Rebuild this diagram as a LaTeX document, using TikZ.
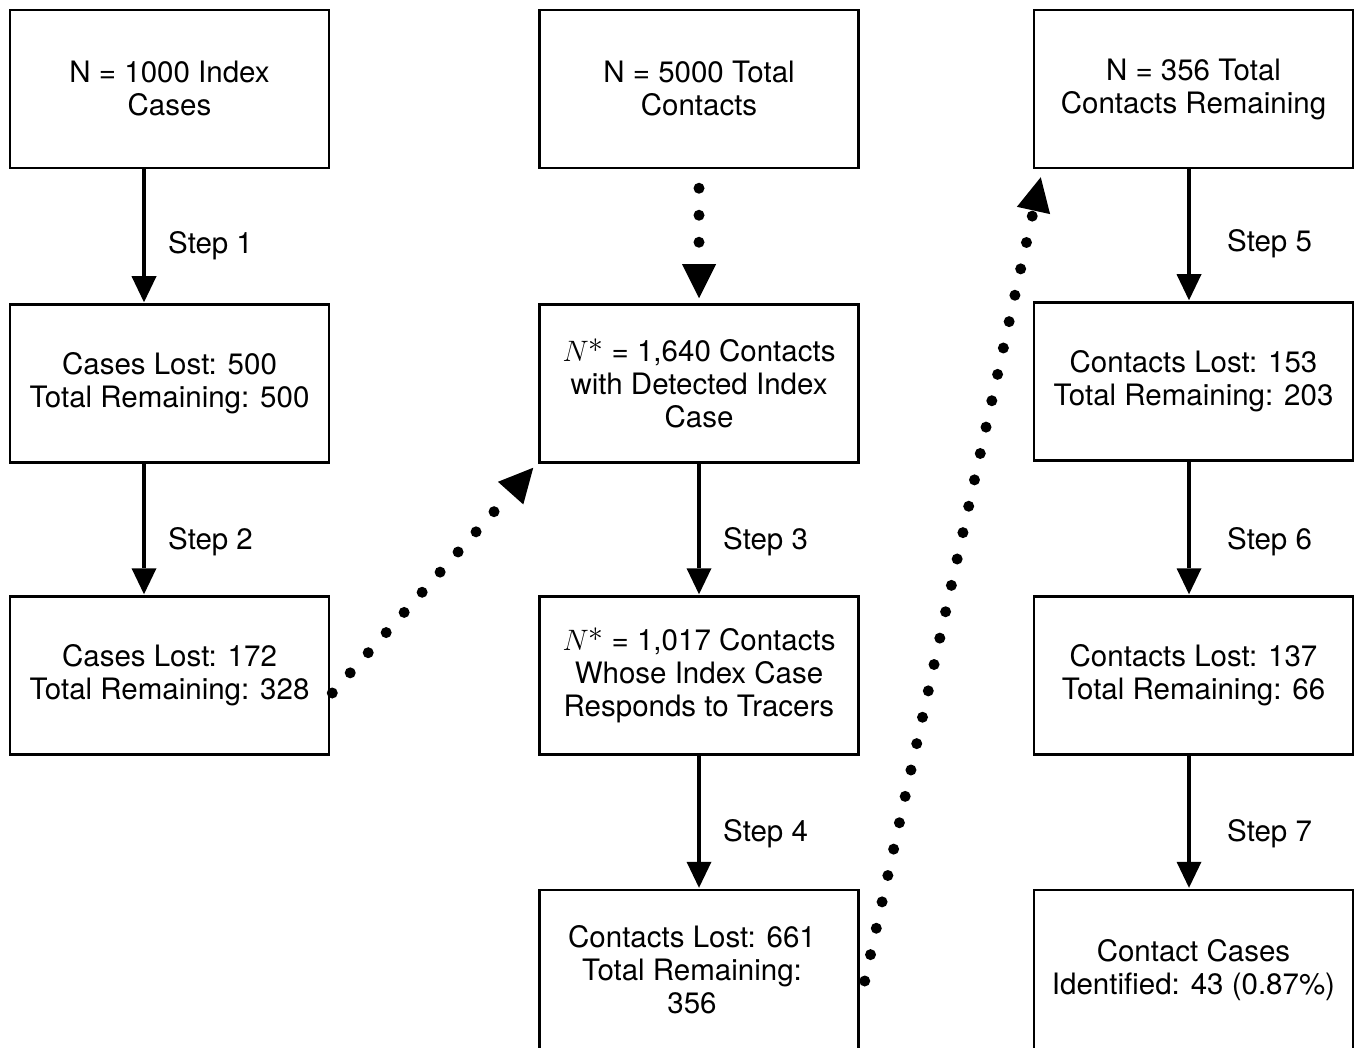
\RequirePackage{fix-cm}
\documentclass[tikz,border=0pt]{standalone}
\usepackage{fontspec}
\setmainfont{TeX Gyre Heros}
\usetikzlibrary{arrows.meta,calc}
\newcommand{\nstar}{$N$\raisebox{0.3em}{$\ast$}}
\newcommand{\padr}{\hbox to 14pt{}}
\begin{document}
\begin{tikzpicture}[x=1pt,y=-1pt,
  box/.style={draw=black, line width=2.5pt, minimum width=319pt, minimum height=158pt,
    inner sep=0pt, align=center, font=\fontsize{29.5}{33}\selectfont},
  steplabel/.style={anchor=base west, inner sep=0pt, font=\fontsize{29.5}{33}\selectfont},
  flow/.style={line width=4.5pt, -{Triangle[length=26pt,width=25pt,line width=0pt]}},
  jump/.style={line width=11pt, line cap=round, dash pattern=on 0pt off 27pt,
    -{Triangle[length=34pt,width=34pt,line width=0pt]}}]
\useasboundingbox (0,0) rectangle (1355,1048);
\fill[white] (0,0) rectangle (1355,1048);

% index cases
\node[box] (c1r1) at (169.5,89)    {N = 1000 Index\\Cases};
\node[box] (c1r2) at (169.5,383.5) {Cases Lost: 500\\Total Remaining: 500};
\node[box] (c1r3) at (169.5,675.5) {Cases Lost: 172\\Total Remaining: 328};

% contacts of detected index cases
\node[box] (c2r1) at (699,89)    {N = 5000 Total\\Contacts};
\node[box] (c2r2) at (699,383.5) {\nstar{} = 1,640 Contacts\\with Detected Index\\Case};
\node[box] (c2r3) at (699,675.5) {\nstar{} = 1,017 Contacts\\Whose Index Case\\Responds to Tracers};
\node[box, minimum height=160pt] (c2r4) at (699,970)
  {Contacts Lost: 661\padr\\Total Remaining:\padr\\356\padr};

% remaining contacts
\node[box] (c3r1) at (1193.5,89)    {N = 356 Total\\Contacts Remaining};
\node[box] (c3r2) at (1193.5,381.5) {Contacts Lost: 153\\Total Remaining: 203};
\node[box] (c3r3) at (1193.5,675.5) {Contacts Lost: 137\\Total Remaining: 66};
\node[box, minimum height=160pt] (c3r4) at (1193.5,970) {Contact Cases\\Identified: 43 (0.87\%)};

% steps
\draw[flow] ($(c1r1.south)+(-25.5,0)$) -- ($(c1r2.north)+(-25.5,-1)$);
\draw[flow] ($(c1r2.south)+(-25.5,0)$) -- ($(c1r3.north)+(-25.5,-1)$);
\draw[flow] (c2r2.south) -- ($(c2r3.north)+(0,-1)$);
\draw[flow] (c2r3.south) -- ($(c2r4.north)+(0,-1)$);
\draw[flow] ($(c3r1.south)+(-4.5,0)$) -- ($(c3r2.north)+(-4.5,-1)$);
\draw[flow] ($(c3r2.south)+(-4.5,0)$) -- ($(c3r3.north)+(-4.5,-1)$);
\draw[flow] ($(c3r3.south)+(-4.5,0)$) -- ($(c3r4.north)+(-4.5,-1)$);

\node[steplabel] (s1) at (168,254)  {Step 1};
\node[steplabel] (s2) at (168,549)  {Step 2};
\node[steplabel] (s3) at (723,549)  {Step 3};
\node[steplabel] (s4) at (723,841)  {Step 4};
\node[steplabel] (s5) at (1227,252) {Step 5};
\node[steplabel] (s6) at (1227,549) {Step 6};
\node[steplabel] (s7) at (1227,841) {Step 7};

% links between columns
\draw[jump] ($(c1r3.east)+(2,17.5)$) -- ($(c2r2.south west)+(-5,4)$);
\draw[jump] ($(c2r1.south)+(0,19)$) -- ($(c2r2.north)+(0,-5)$);
\draw[jump] ($(c2r4.east)+(5,11)$) -- ($(c3r1.south west)+(8,8)$);
\end{tikzpicture}
\end{document}
